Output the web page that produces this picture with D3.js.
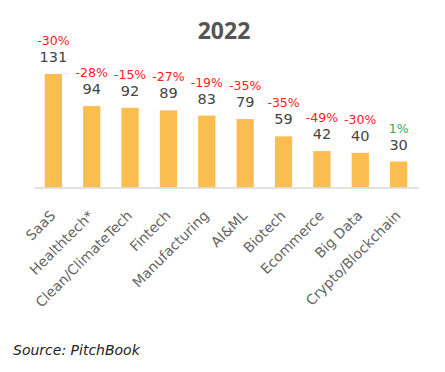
<!DOCTYPE html>
<html>
<head>
<meta charset="utf-8">
<script src="https://cdn.jsdelivr.net/npm/d3@7"></script>
<style>
  html, body { margin: 0; padding: 0; background: #fff; }
  svg { display: block; }
</style>
</head>
<body>
<div id="chart"></div>
<script>
const categories = ["SaaS", "Healthtech*", "Clean/ClimateTech", "Fintech", "Manufacturing", "AI&ML", "Biotech", "Ecommerce", "Big Data", "Crypto/Blockchain"];
const values = [131, 94, 92, 89, 83, 79, 59, 42, 40, 30];
const changes = [-30, -28, -15, -27, -19, -35, -35, -49, -30, 1];
const title = "2022";
const source = "Source: PitchBook";

const W = 445, H = 372;
const font = "'DejaVu Sans', sans-serif";
const svg = d3.select("#chart").append("svg").attr("width", W).attr("height", H);

const x = d3.scaleBand().domain(categories).range([34, 418]).paddingInner(0.55).paddingOuter(0.28);
const y = d3.scaleLinear().domain([0, 131]).range([187.5, 74]);

svg.append("text").attr("x", 224).attr("y", 39).attr("text-anchor", "middle")
  .attr("font-family", "'Open Sans', sans-serif").attr("font-weight", 700).attr("font-size", 23).attr("fill", "#555")
  .text(title);

svg.selectAll("rect.bar").data(values).join("rect").attr("class", "bar")
  .attr("x", (d, i) => x(categories[i])).attr("width", x.bandwidth())
  .attr("y", d => y(d)).attr("height", d => y(0) - y(d))
  .attr("fill", "#FABE50");

const axis = svg.append("g").attr("transform", `translate(0,${y(0)})`)
  .call(d3.axisBottom(x).tickSize(0).tickPadding(0));
axis.select(".domain").attr("stroke", "#d9d9d9").attr("stroke-width", 1.5);
axis.selectAll(".tick text")
  .attr("font-family", font).attr("font-size", 14).attr("fill", "#666")
  .attr("text-anchor", "end").attr("dy", null).attr("y", 0)
  .attr("transform", "translate(3,29) rotate(-45)");

svg.selectAll("text.val").data(values).join("text").attr("class", "val")
  .attr("x", (d, i) => x(categories[i]) + x.bandwidth() / 2).attr("y", d => y(d) - 12)
  .attr("text-anchor", "middle").attr("font-family", font).attr("font-size", 14.5).attr("fill", "#444")
  .text(d => d);

svg.selectAll("text.chg").data(changes).join("text").attr("class", "chg")
  .attr("x", (d, i) => x(categories[i]) + x.bandwidth() / 2).attr("y", (d, i) => y(values[i]) - 29)
  .attr("text-anchor", "middle").attr("font-family", font).attr("font-size", 12.5)
  .attr("fill", d => d >= 0 ? "#27AE60" : "#FF2020")
  .text(d => d + "%");

svg.append("text").attr("x", 13).attr("y", 355)
  .attr("font-family", font).attr("font-style", "italic").attr("font-size", 14).attr("fill", "#222")
  .text(source);
</script>
</body>
</html>
